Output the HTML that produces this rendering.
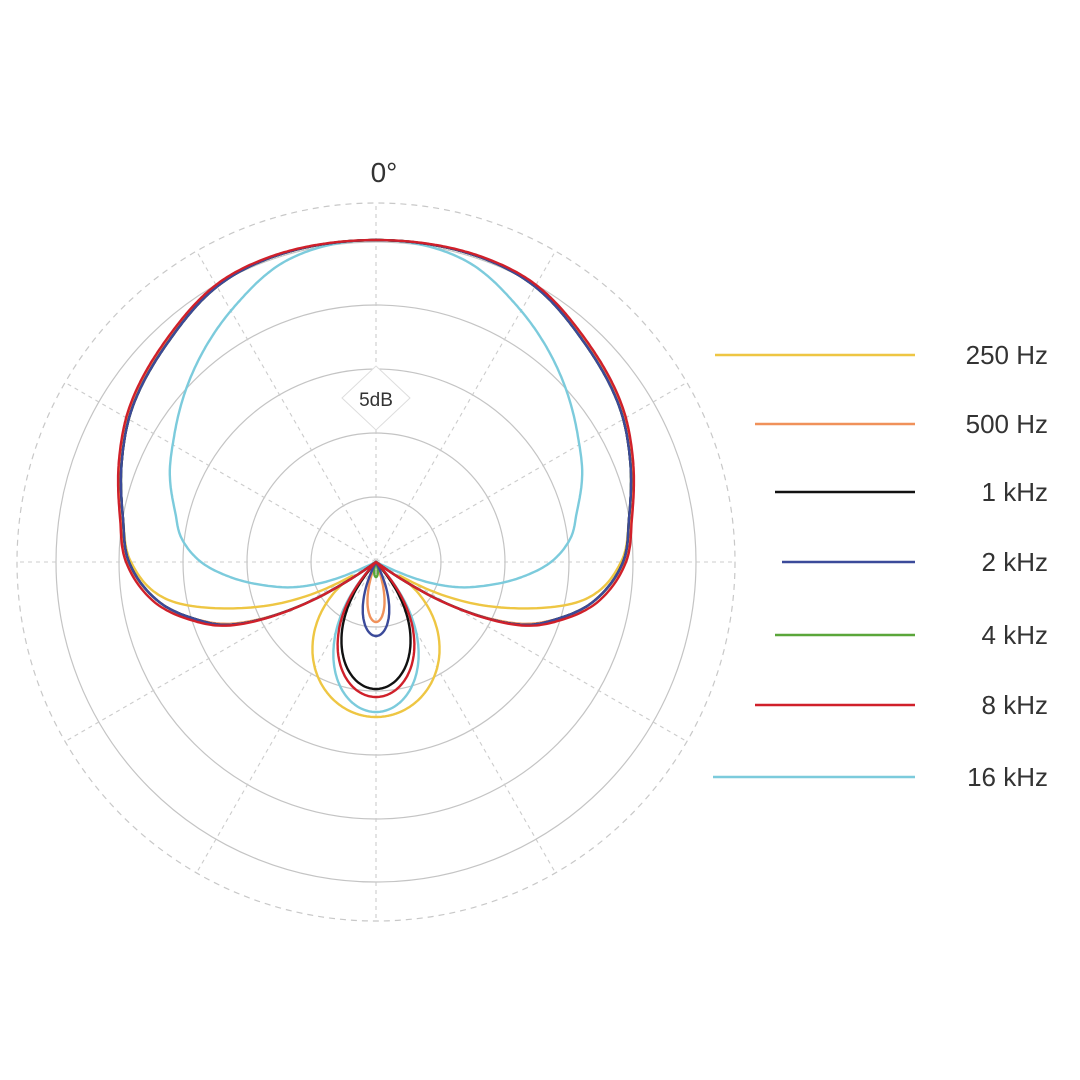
<!DOCTYPE html>
<html><head><meta charset="utf-8"><style>
html,body{margin:0;padding:0;background:#fff;}
svg{display:block;}
text{font-family:"Liberation Sans",sans-serif;fill:#333;}
</style></head><body>
<svg id="s" width="1080" height="1080" viewBox="0 0 1080 1080" xmlns="http://www.w3.org/2000/svg">
<rect width="1080" height="1080" fill="#fff"/>
<g id="grid" fill="none"></g>
<g id="curves" fill="none" stroke-width="2.4" stroke-linejoin="round"></g>
<polygon points="376,366 410,398 376,430 342,398" fill="#fff" stroke="#ddd" stroke-width="1"/>
<text x="376" y="406" font-size="19" text-anchor="middle">5dB</text>
<text x="384" y="182" font-size="28" text-anchor="middle">0°</text>
<g stroke-width="2.4">
<line x1="715" y1="355" x2="915" y2="355" stroke="#eec643"/>
<line x1="755" y1="424" x2="915" y2="424" stroke="#f0915a"/>
<line x1="775" y1="492" x2="915" y2="492" stroke="#111"/>
<line x1="782" y1="562" x2="915" y2="562" stroke="#3b4a9a"/>
<line x1="775" y1="635" x2="915" y2="635" stroke="#5aa63a"/>
<line x1="755" y1="705" x2="915" y2="705" stroke="#d0202a"/>
<line x1="713" y1="777" x2="915" y2="777" stroke="#7ccbdc"/>
</g>
<g font-size="26" text-anchor="end">
<text x="1048" y="364">250 Hz</text>
<text x="1048" y="433">500 Hz</text>
<text x="1048" y="501">1 kHz</text>
<text x="1048" y="571">2 kHz</text>
<text x="1048" y="644">4 kHz</text>
<text x="1048" y="714">8 kHz</text>
<text x="1048" y="786">16 kHz</text>
</g>
</svg>
<script>
var cx=376,cy=562,NS="http://www.w3.org/2000/svg";
var g=document.getElementById('grid');
function el(p,t,a){var e=document.createElementNS(NS,t);for(var k in a)e.setAttribute(k,a[k]);p.appendChild(e);return e;}
[65,129,193,257,320].forEach(function(r){el(g,'circle',{cx:cx,cy:cy,r:r,stroke:'#c4c4c4','stroke-width':1.2});});
el(g,'circle',{cx:cx,cy:cy,r:359,stroke:'#c8c8c8','stroke-width':1.2,'stroke-dasharray':'6 5'});
for(var i=0;i<12;i++){var a=i*Math.PI/6;el(g,'line',{x1:cx,y1:cy,x2:cx+359*Math.sin(a),y2:cy-359*Math.cos(a),stroke:'#ccc','stroke-width':1.1,'stroke-dasharray':'4 4'});}
var C=document.getElementById('curves');
var RED=[[-20,324],[0,322],[20,323],[30,320],[43,306],[58,291],[68,277],[80,260],[90,250],[100,226],[107,196],[114,155],[121,76],[126,0],[130,-40]];
var YEL=[[-20,324],[0,322],[20,322],[30,318],[43,303],[58,288],[68,274],[80,257],[90,245],[100,213],[108,150],[117,68],[122,0],[126,-40]];
var OR=[[-20,324],[0,322],[20,322],[30,319],[43,304],[58,289],[68,275],[80,258],[90,248],[100,222],[107,192],[114,150],[121,74],[126,0],[130,-40]];
var MID=[[-20,324],[0,322],[20,322],[30,318],[43,303],[58,288],[68,274],[80,257],[90,247],[100,222],[107,192],[114,153],[121,75],[126,0],[130,-40]];
var CY=[[-16,315],[0,322],[16,315],[29,292],[46,260],[58,238],[67,224],[76,207],[83,196],[90,175],[96,146],[102,113],[108,80],[113,40],[116,0],[119,-40]];
function interp(T,t){
 for(var i=1;i<T.length-2;i++){
  if(t<=T[i+1][0]){
   var p0=T[i-1],p1=T[i],p2=T[i+1],p3=T[i+2];
   var h=p2[0]-p1[0],f=(t-p1[0])/h;
   var m1=(p2[1]-p0[1])/(p2[0]-p0[0])*h,m2=(p3[1]-p1[1])/(p3[0]-p1[0])*h;
   var f2=f*f,f3=f2*f;
   return (2*f3-3*f2+1)*p1[1]+(f3-2*f2+f)*m1+(-2*f3+3*f2)*p2[1]+(f3-f2)*m2;
  }
 }
 return 0;
}
var P=[
 ['#eec643',YEL,155,1.4],
 ['#f0915a',OR,60,4.3],
 ['#7ccbdc',CY,150,2.1],
 ['#5aa63a',MID,15,5],
 ['#111',MID,127,2.2],
 ['#3b4a9a',MID,74,3.4],
 ['#d0202a',RED,135,2.1]
];
P.forEach(function(p){
 var d='';
 for(var t=0;t<=360;t+=0.5){
  var th=t*Math.PI/180;
  var ad=t>180?360-t:t;
  var r=Math.max(0,interp(p[1],ad));
  var phi=(t-180)*Math.PI/180;
  if(Math.abs(phi*p[3])<Math.PI/2){var rr=p[2]*Math.pow(Math.cos(phi*p[3]),0.8);if(rr>r)r=rr;}
  var x=cx+r*Math.sin(th),y=cy-r*Math.cos(th);
  d+=(t==0?'M':'L')+x.toFixed(1)+' '+y.toFixed(1);
 }
 el(C,'path',{d:d+'Z',stroke:p[0]});
});
</script>
</body></html>
